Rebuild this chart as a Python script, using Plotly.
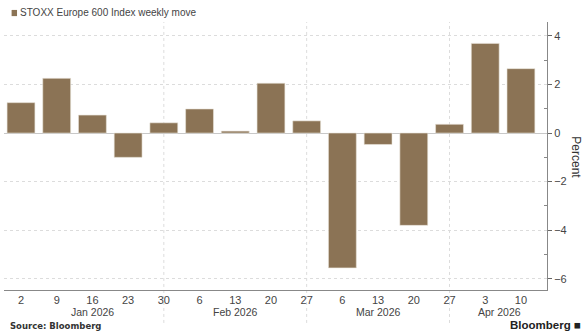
import plotly.graph_objects as go

week_labels = ["2", "9", "16", "23", "30", "6", "13", "20", "27", "6", "13", "20", "27", "3", "10"]
weekly_move = [1.25, 2.25, 0.74, -1.0, 0.42, 0.99, 0.08, 2.05, 0.5, -5.55, -0.47, -3.8, 0.36, 3.69, 2.65]
month_labels = ["Jan 2026", "Feb 2026", "Mar 2026", "Apr 2026"]
month_centers = [2, 6, 10, 13.4]
month_breaks = [4, 8, 12]
y_ticks = [4, 2, 0, -2, -4, -6]

FONT = "Liberation Sans Narrow, Arial Narrow, Liberation Sans, Arial, sans-serif"
BAR = "#8b7355"
TXT = "#444444"

x = list(range(len(weekly_move)))

fig = go.Figure()
fig.add_trace(go.Bar(
    x=x, y=weekly_move, width=0.78,
    marker=dict(color=BAR, line=dict(color="#e8e2d8", width=0.6)),
    showlegend=False, hoverinfo="skip",
))

shapes = []
for b in month_breaks:
    shapes.append(dict(type="line", xref="x", yref="paper", x0=b, x1=b, y0=-0.123, y1=1,
                       line=dict(color="#dcdcdc", width=1, dash="dot"), layer="below"))
# legend swatch
shapes.append(dict(type="rect", xref="paper", yref="paper", x0=0.014, x1=0.024,
                   y0=1.022, y1=1.045, fillcolor=BAR, line=dict(width=0)))

annotations = []
for lab, c in zip(month_labels, month_centers):
    annotations.append(dict(x=c, y=-0.056, xref="x", yref="paper", text=lab, showarrow=False,
                            yanchor="top", borderpad=0, font=dict(family=FONT, size=10.5, color=TXT)))
annotations.append(dict(x=0.026, y=1.034, xref="paper", yref="paper", xanchor="left", yanchor="middle",
                        text="STOXX Europe 600 Index weekly move", showarrow=False,
                        font=dict(family=FONT, size=10, color=TXT)))
annotations.append(dict(x=0.008, y=-0.11, xref="paper", yref="paper", xanchor="left", yanchor="top",
                        text="<b>Source: Bloomberg</b>", showarrow=False,
                        font=dict(family="DejaVu Sans, sans-serif", size=8.5, color="#333333")))
annotations.append(dict(x=1.064, y=-0.156, xref="paper", yref="paper", xanchor="right", yanchor="bottom",
                        text="<b>Bloomberg</b> ■", showarrow=False, borderpad=0,
                        font=dict(family="Liberation Sans, Arial, sans-serif", size=11.5, color="#222222")))
annotations.append(dict(x=1.053, y=0.496, xref="paper", yref="paper", xanchor="center", yanchor="middle",
                        text="Percent", textangle=90,
                        showarrow=False, font=dict(family="Liberation Sans, Arial, sans-serif", size=12, color="#333333")))

fig.update_layout(
    width=582, height=331,
    margin=dict(l=4, r=35, t=22, b=41),
    paper_bgcolor="white", plot_bgcolor="white",
    bargap=0.2,
    shapes=shapes, annotations=annotations,
    xaxis=dict(
        range=[-0.476, 14.73], tickvals=x, ticktext=week_labels,
        showgrid=False, zeroline=False, showline=True, linecolor="#888888", linewidth=1,
        ticks="", tickfont=dict(family=FONT, size=11, color=TXT), fixedrange=True,
    ),
    yaxis=dict(
        side="right", range=[-6.46, 4.57], tickvals=y_ticks,
        showgrid=True, gridcolor="#dcdcdc", griddash="dot", gridwidth=1,
        zeroline=True, zerolinecolor="#c8c8c8", zerolinewidth=1,
        showline=True, linecolor="#888888", linewidth=1,
        ticks="outside", ticklen=4, tickcolor="#666666",
        minor=dict(tickvals=[3, 1, -1, -3, -5], ticks="inside", ticklen=3, tickcolor="#888888", showgrid=False),
        tickfont=dict(family=FONT, size=11, color=TXT), fixedrange=True,
    ),
)

fig.write_html("out.html")
